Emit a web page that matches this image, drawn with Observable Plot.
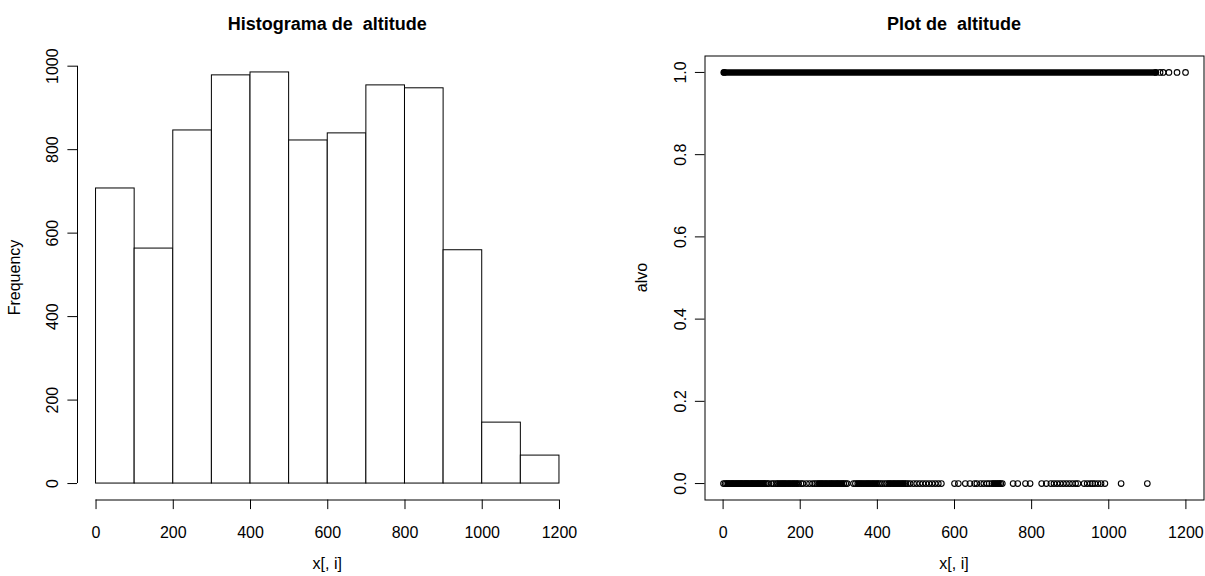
<!DOCTYPE html>
<html><head><meta charset="utf-8">
<script src="https://cdn.jsdelivr.net/npm/d3@7"></script>
<script src="https://cdn.jsdelivr.net/npm/@observablehq/plot@0.6"></script>
<style>
html,body{margin:0;padding:0;background:#fff;}
#wrap{position:relative;width:1205px;height:576px;overflow:hidden;background:#fff;}
#wrap > svg{position:absolute;top:0;}
</style></head><body><div id="wrap"></div>
<script>
// ---- Data ----
const histBreaks = [0, 100, 200, 300, 400, 500, 600, 700, 800, 900, 1000, 1100, 1200];
const histCounts = [707, 563, 846, 978, 985, 822, 839, 954, 947, 559, 146, 67];
const histXTicks = [0, 200, 400, 600, 800, 1000, 1200];
const histYTicks = [0, 200, 400, 600, 800, 1000];

const scatterXTicks = [0, 200, 400, 600, 800, 1000, 1200];
const scatterYTicks = [0, 0.2, 0.4, 0.6, 0.8, 1.0];

// alvo = 1 : an almost continuous run of overlapping points, then a few separate points
const alvo1Runs = [[3, 1122]];
const alvo1Points = [3, 1122, 1133, 1141, 1156, 1177, 1199];
// alvo = 0 : stretches where points overlap into a solid band, plus individual points
const alvo0Runs = [[8, 112], [140, 196], [245, 316], [345, 405], [426, 476], [697, 722]];
const alvo0Points = [
  1, 5, 9, 13, 17, 21, 25, 28, 33, 36, 40, 44, 47, 51, 55, 59, 62, 66, 70, 74, 77, 81, 85, 89, 92, 96, 100, 104, 107, 111, 115, 118,
  126, 131, 137, 142, 148, 153, 158, 163, 169, 174, 180, 185, 191, 196, 202, 207,
  216, 224, 232,
  238, 243, 249, 254, 259, 265, 270, 276, 281, 286, 292, 297, 302, 308, 313, 318, 322,
  338, 343, 349, 354, 359, 365, 371, 376, 381, 387, 392, 398, 403, 408, 413,
  419, 424, 430, 435, 441, 446, 452, 457, 463, 468, 474, 479, 485,
  494, 502, 510, 518, 526, 534, 542, 550, 558, 566,
  600, 610, 628, 640, 652, 658, 668, 676, 684, 690,
  697, 702, 707, 712, 716, 720, 724,
  752, 764, 784, 796,
  826, 838, 850, 858, 866, 874, 882, 890, 898, 906, 914, 920,
  936, 944, 952, 958, 964, 972, 980, 990,
  1032, 1100
];

const histTitle = "Histograma de  altitude";
const scatterTitle = "Plot de  altitude";
const xLabel = "x[, i]";
const histYLabel = "Frequency";
const scatterYLabel = "alvo";

// ---- Helpers ----
const FONT = "'Liberation Sans', Arial, Helvetica, sans-serif";
const ext = ([a, b]) => { const p = (b - a) * 0.04; return [a - p, b + p]; };
const wrap = document.getElementById("wrap");
const styleObj = {fontFamily: FONT, fontSize: "16px", color: "black", background: "white", overflow: "visible"};

// ---- Histogram ----
const bins = histCounts.map((c, i) => ({x1: histBreaks[i], x2: histBreaks[i + 1], count: c}));
const hx = ext([histBreaks[0], histBreaks[histBreaks.length - 1]]);
const hy = ext([0, d3.max(histCounts)]);

const hist = Plot.plot({
  width: 602, height: 576,
  marginLeft: 77, marginRight: 24.5, marginTop: 55.5, marginBottom: 76.5,
  style: styleObj,
  x: {domain: hx, axis: null},
  y: {domain: hy, axis: null},
  marks: [
    Plot.rectY(bins, {x1: "x1", x2: "x2", y1: 0, y2: "count", fill: "white", stroke: "black", strokeWidth: 1}),
    Plot.ruleY([hy[0]], {x1: histXTicks[0], x2: histXTicks[histXTicks.length - 1], stroke: "black"}),
    Plot.ruleX([hx[0]], {y1: histYTicks[0], y2: histYTicks[histYTicks.length - 1], stroke: "black"}),
    Plot.axisX({ticks: histXTicks, tickFormat: d => String(d), tickSize: 9.6, tickPadding: 17, stroke: "black", fill: "black", label: null}),
    Plot.axisY({ticks: histYTicks, tickFormat: d => String(d), tickSize: 9.6, tickPadding: 9.6, tickRotate: -90, stroke: "black", fill: "black", label: null})
  ]
});
hist.style.left = "0px";
wrap.appendChild(hist);

// ---- Scatter ----
const allX = alvo0Points.concat(alvo1Points);
const sx = ext(d3.extent(allX));
const sy = ext([0, 1]);

const scatter = Plot.plot({
  width: 603, height: 576,
  marginLeft: 102.5, marginRight: 1.5, marginTop: 55.5, marginBottom: 76.5,
  style: styleObj,
  x: {domain: sx, axis: null},
  y: {domain: sy, axis: null},
  marks: [
    Plot.frame({stroke: "black", strokeWidth: 1}),
    Plot.ruleY(alvo1Runs, {y: 1, x1: d => d[0], x2: d => d[1], stroke: "black", strokeWidth: 6.6, strokeLinecap: "round"}),
    Plot.ruleY(alvo0Runs, {y: 0, x1: d => d[0], x2: d => d[1], stroke: "black", strokeWidth: 6.2, strokeLinecap: "butt"}),
    Plot.dot(alvo1Points, {x: d => d, y: 1, r: 2.8, stroke: "black", fill: "none", strokeWidth: 1.1}),
    Plot.dot(alvo0Points, {x: d => d, y: 0, r: 2.8, stroke: "black", fill: "none", strokeWidth: 1.1}),
    Plot.axisX({ticks: scatterXTicks, tickFormat: d => String(d), tickSize: 9.6, tickPadding: 17, stroke: "black", fill: "black", label: null}),
    Plot.axisY({ticks: scatterYTicks, tickFormat: d3.format(".1f"), tickSize: 9.6, tickPadding: 9.6, tickRotate: -90, stroke: "black", fill: "black", label: null})
  ]
});
scatter.style.left = "602px";
wrap.appendChild(scatter);

// ---- Titles & axis labels (text overlay) ----
const ov = d3.select(wrap).append("svg")
  .attr("width", 1205).attr("height", 576)
  .style("left", "0px").style("pointer-events", "none")
  .attr("font-family", FONT).attr("fill", "black");

const leftCx = (77 + 577.5) / 2, rightCx = (704.5 + 1203.5) / 2, midY = (55.5 + 499.5) / 2;
ov.append("text").attr("x", leftCx).attr("y", 30).attr("text-anchor", "middle")
  .attr("font-weight", "bold").attr("font-size", 18).style("white-space", "pre").text(histTitle);
ov.append("text").attr("x", rightCx).attr("y", 30).attr("text-anchor", "middle")
  .attr("font-weight", "bold").attr("font-size", 18).style("white-space", "pre").text(scatterTitle);
ov.append("text").attr("x", leftCx).attr("y", 569).attr("text-anchor", "middle").attr("font-size", 16).text(xLabel);
ov.append("text").attr("x", rightCx).attr("y", 569).attr("text-anchor", "middle").attr("font-size", 16).text(xLabel);
ov.append("text").attr("transform", `translate(19.5,${midY}) rotate(-90)`).attr("text-anchor", "middle").attr("font-size", 16).text(histYLabel);
ov.append("text").attr("transform", `translate(646.5,${midY}) rotate(-90)`).attr("text-anchor", "middle").attr("font-size", 16).text(scatterYLabel);
</script></body></html>
